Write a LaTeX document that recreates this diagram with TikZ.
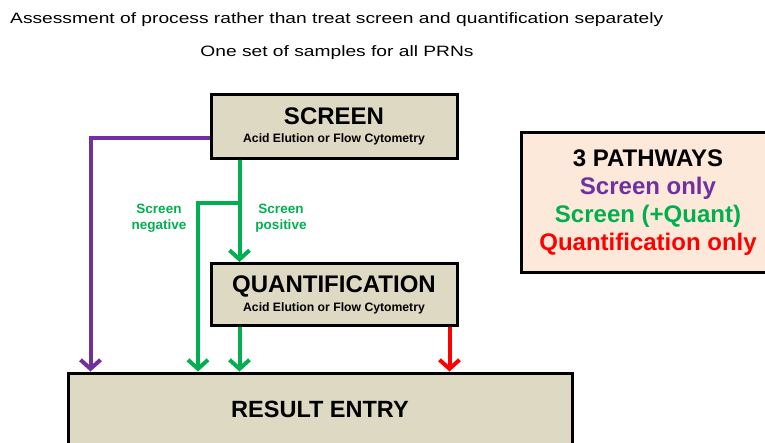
\documentclass[tikz,border=0pt]{standalone}
\usepackage{fontspec}
\usepackage{graphicx}
\setmainfont{Liberation Sans}
\usetikzlibrary{arrows.meta}

\begin{document}
\begin{tikzpicture}[
		x=1pt, y=-1pt,
		stepbox/.style={
			draw,
			line width=3pt,
			fill=boxtan,
			minimum width=246pt,
			align=center,
			inner sep=0pt,
			font=\bfseries\fontsize{24}{17}\selectfont,
		},
		flowedge/.style={
			line width=4pt,
			-{Straight Barb[length=9pt, width=20pt]},
		},
		flowlabel/.style={
			align=center,
			text=pathgreen,
			font=\bfseries\fontsize{13.5}{16}\selectfont,
		},
		headline/.style={
			inner sep=0pt,
			font=\fontsize{15}{18}\selectfont,
		}
	]

		% Colours
		\definecolor{boxtan}{HTML}{DDD9C3}
		\definecolor{boxpeach}{HTML}{FDE9D9}
		\definecolor{pathpurple}{HTML}{7030A0}
		\definecolor{pathgreen}{HTML}{00B050}
		\definecolor{pathred}{HTML}{FF0000}

		\useasboundingbox (0,0) rectangle (765,442);
		\clip (0,0) rectangle (765,442);

		% Headings
		\node[headline, anchor=west] (heading) at (10,20)
			{\scalebox{1.28}[1]{Assessment of process rather than treat screen and quantification separately}};
		\node[headline] (subheading) at (337,53)
			{\scalebox{1.28}[1]{One set of samples for all PRNs}};

		% Boxes
		\node[stepbox, minimum height=64pt] (screen) at (334,126.5)
			{SCREEN\\[1pt]{\fontsize{12.2}{13}\selectfont Acid Elution or Flow Cytometry}};
		\node[stepbox, minimum height=62pt] (quant) at (334,294.5)
			{QUANTIFICATION\\[2pt]{\fontsize{12.2}{13}\selectfont Acid Elution or Flow Cytometry}};
		\node[stepbox, minimum width=504pt, minimum height=72pt, font=\bfseries\fontsize{23.5}{26}\selectfont] (result) at (320,409)
			{RESULT ENTRY};

		% Legend
		\node[draw, line width=3pt, fill=boxpeach, minimum width=254pt, minimum height=140pt,
			align=center, font=\bfseries\fontsize{24}{28}\selectfont] (pathways) at (648,202.5)
			{3 PATHWAYS\\
			\textcolor{pathpurple}{Screen only}\\
			\textcolor{pathgreen}{Screen (+Quant)}\\
			\textcolor{pathred}{Quantification only}};

		% Start points
		\coordinate (posstart) at ([xshift=30pt]screen.south west);
		\path (posstart) ++(2,42.5) coordinate (split);
		\coordinate (negdown) at (198,201);
		\coordinate (quantgreen) at ([xshift=30pt]quant.south west);
		\coordinate (quantred) at ([xshift=-9pt]quant.south east);

		% Connections
		\draw[flowedge, pathpurple] ([yshift=-11.5pt]screen.west) -| ([xshift=24pt]result.north west);
		\draw[flowedge, pathgreen] (posstart) -- (posstart |- quant.north);
		\draw[flowedge, pathgreen] (split) -| (negdown |- result.north);
		\draw[flowedge, pathgreen] (quantgreen) -- (quantgreen |- result.north);
		\draw[flowedge, pathred] (quantred) -- (quantred |- result.north);

		% Labels
		\node[flowlabel] (neglabel) at (159,218) {Screen\\negative};
		\node[flowlabel] (poslabel) at (281,218) {Screen\\positive};

	\end{tikzpicture}
\end{document}
